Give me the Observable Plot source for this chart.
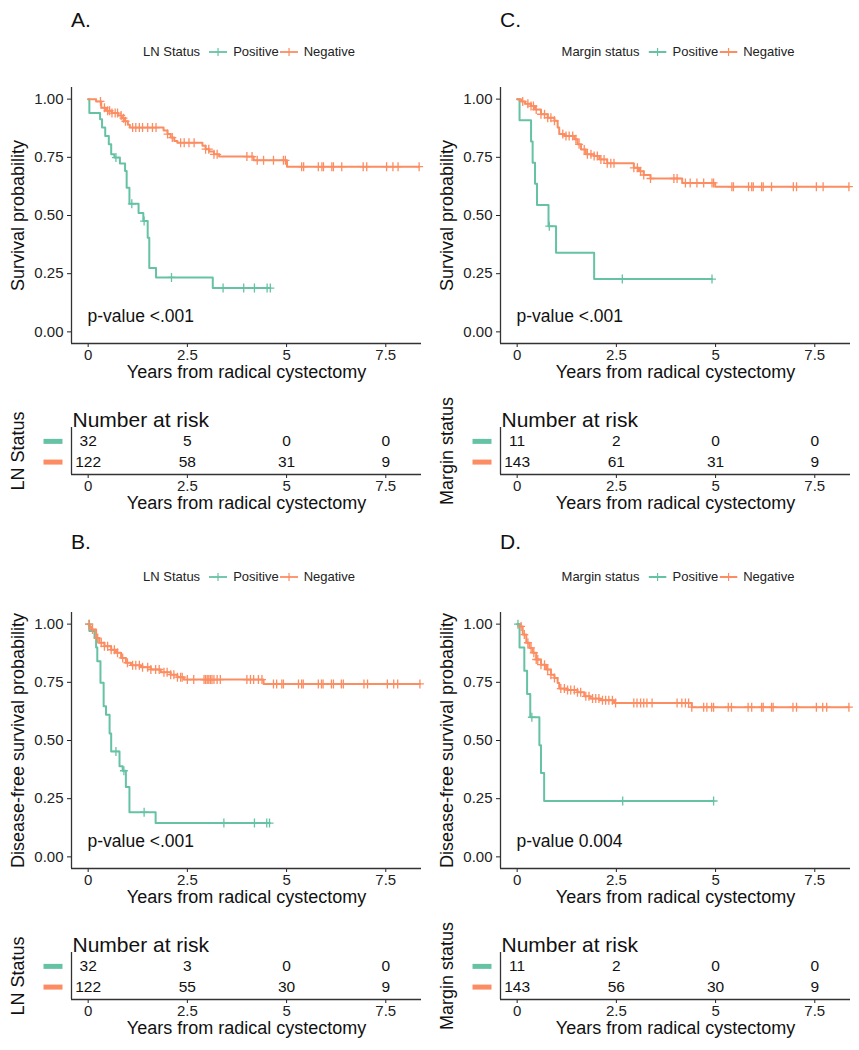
<!DOCTYPE html>
<html><head><meta charset="utf-8">
<script src="https://cdn.jsdelivr.net/npm/d3@7"></script>
<script src="https://cdn.jsdelivr.net/npm/@observablehq/plot@0.6"></script>
<style>
body{margin:0;background:#fff;font-family:"Liberation Sans",Arial,sans-serif;}
#root{position:relative;width:859px;height:1050px;overflow:hidden;background:#fff;}
.abs{position:absolute;}
.plabel{font-size:21px;line-height:24px;color:#111;}
.legend{font-size:13px;line-height:16px;display:flex;align-items:center;white-space:nowrap;color:#222;transform:translateX(-50%);}
.legend svg{display:block;}
</style></head><body><div id="root"></div>
<script>
// ---------- shared values ----------
const groups = ["Positive", "Negative"];
const colors = ["#66C2A5", "#FC8D62"];
const xTicks = [0, 2.5, 5, 7.5];
const yTicks = [0, 0.25, 0.5, 0.75, 1];
const riskTimes = [0, 2.5, 5, 7.5];

// ---------- Panel A: overall survival by LN status ----------
const aPosT = [0.03,0.30,0.35,0.43,0.52,0.58,0.66,0.80,0.93,0.97,1.04,1.27,1.39,1.50,1.54,1.71,3.14];
const aPosS = [0.94,0.914,0.878,0.842,0.806,0.763,0.749,0.723,0.691,0.619,0.55,0.511,0.476,0.404,0.274,0.234,0.188];
const aPosC = [0.70,1.10,1.41,2.10,3.40,3.92,4.19,4.51,4.59];
const aNegT = [0.2,0.33,0.45,0.6,0.75,0.85,0.93,1.0,1.05,1.9,2.0,2.08,2.17,2.25,2.88,2.96,3.05,3.17,3.3,4.17,5.01];
const aNegS = [0.99,0.963,0.95,0.94,0.93,0.918,0.905,0.89,0.878,0.865,0.85,0.835,0.82,0.813,0.8,0.785,0.775,0.763,0.753,0.737,0.71];
const aNegC = [0.31,0.41,0.49,0.54,0.60,0.68,0.74,0.83,0.89,0.94,1.12,1.20,1.29,1.37,1.50,1.62,1.71,2.0,2.12,2.33,2.42,2.54,2.67,2.96,3.04,3.17,3.25,4.0,4.13,4.26,4.42,4.67,4.92,4.97,5.38,5.43,5.80,5.89,5.93,6.14,6.18,6.39,6.93,7.02,7.52,7.68,7.81,8.34];
const aRiskPos = [32, 5, 0, 0];
const aRiskNeg = [122, 58, 31, 9];

// ---------- Panel B: disease-free survival by LN status ----------
const bPosT = [0.03,0.16,0.2,0.23,0.31,0.39,0.45,0.54,0.58,0.79,0.87,0.95,1.04,1.70];
const bPosS = [0.97,0.94,0.9,0.84,0.748,0.647,0.611,0.53,0.453,0.389,0.37,0.30,0.192,0.145];
const bPosC = [0.02,0.70,0.90,1.41,3.42,4.19,4.50,4.57];
const bNegT = [0.04,0.075,0.2,0.28,0.41,0.58,0.70,0.83,0.95,1.08,1.33,1.58,1.83,2.08,2.25,2.41,4.42];
const bNegS = [0.99,0.977,0.94,0.92,0.905,0.89,0.877,0.855,0.834,0.823,0.815,0.805,0.793,0.783,0.772,0.762,0.743];
const bNegC = [0.03,0.11,0.24,0.33,0.41,0.49,0.58,0.66,0.74,0.87,0.99,1.12,1.20,1.29,1.37,1.50,1.58,1.70,1.79,1.91,1.99,2.08,2.16,2.25,2.33,2.37,2.50,2.66,2.92,2.96,3.0,3.04,3.08,3.12,3.17,3.25,3.33,4.0,4.09,4.17,4.29,4.38,4.67,4.75,4.88,4.92,5.30,5.38,5.42,5.80,5.88,5.92,6.13,6.18,6.38,6.43,6.95,7.04,7.54,7.70,7.80,8.36];
const bRiskPos = [32, 3, 0, 0];
const bRiskNeg = [122, 55, 30, 9];

// ---------- Panel C: overall survival by margin status ----------
const cPosT = [0.06,0.35,0.39,0.45,0.50,0.79,0.98,1.94];
const cPosS = [0.909,0.818,0.727,0.636,0.545,0.454,0.34,0.227];
const cPosC = [0.81,2.65,4.91];
const cNegT = [0.1,0.2,0.35,0.45,0.6,0.77,0.94,1.02,1.06,1.19,1.44,1.52,1.61,1.73,1.94,2.07,2.27,2.94,3.07,3.19,3.36,4.16,4.99];
const cNegS = [0.99,0.98,0.97,0.955,0.935,0.92,0.907,0.878,0.85,0.842,0.828,0.806,0.784,0.763,0.756,0.741,0.724,0.705,0.69,0.674,0.659,0.64,0.624];
const cNegC = [0.14,0.27,0.35,0.41,0.48,0.60,0.69,0.77,0.85,0.94,1.15,1.23,1.31,1.40,1.48,1.56,1.69,1.77,1.86,1.94,2.02,2.11,2.19,2.27,2.36,2.44,2.94,3.03,3.11,3.19,3.36,3.95,4.03,4.24,4.36,4.53,4.70,4.91,4.95,5.41,5.45,5.83,5.91,5.95,6.16,6.20,6.41,6.96,7.04,7.54,7.71,8.36];
const cRiskPos = [11, 2, 0, 0];
const cRiskNeg = [143, 61, 31, 9];

// ---------- Panel D: disease-free survival by margin status ----------
const dPosT = [0.06,0.18,0.25,0.33,0.56,0.60,0.68];
const dPosS = [0.9,0.8,0.7,0.6,0.48,0.36,0.24];
const dPosC = [0.02,0.37,2.66,4.95];
const dNegT = [0.06,0.14,0.23,0.31,0.39,0.48,0.60,0.73,0.85,0.94,1.02,1.06,1.27,1.52,1.69,1.85,2.10,2.44,4.40];
const dNegS = [0.99,0.955,0.92,0.898,0.877,0.848,0.826,0.805,0.783,0.769,0.747,0.723,0.717,0.707,0.69,0.68,0.673,0.661,0.643];
const dNegC = [0.10,0.18,0.27,0.35,0.42,0.48,0.52,0.60,0.69,0.77,0.85,0.94,1.10,1.19,1.27,1.35,1.44,1.52,1.60,1.73,1.81,1.90,1.98,2.06,2.15,2.23,2.31,2.40,2.48,2.94,3.02,3.11,3.19,3.27,3.40,4.03,4.15,4.24,4.32,4.40,4.70,4.78,4.90,4.95,5.32,5.40,5.82,5.91,6.16,6.20,6.41,6.45,6.95,7.04,7.54,7.70,7.80,8.36];
const dRiskPos = [11, 2, 0, 0];
const dRiskNeg = [143, 56, 30, 9];

const panels = [
  {col:0,row:0,label:"A.",legendTitle:"LN Status",ytitle:"Survival probability",pval:"p-value <.001",
   curves:[[aPosT,aPosS,aPosC],[aNegT,aNegS,aNegC]],risk:[aRiskPos,aRiskNeg]},
  {col:0,row:1,label:"B.",legendTitle:"LN Status",ytitle:"Disease-free survival probability",pval:"p-value <.001",
   curves:[[bPosT,bPosS,bPosC],[bNegT,bNegS,bNegC]],risk:[bRiskPos,bRiskNeg]},
  {col:1,row:0,label:"C.",legendTitle:"Margin status",ytitle:"Survival probability",pval:"p-value <.001",
   curves:[[cPosT,cPosS,cPosC],[cNegT,cNegS,cNegC]],risk:[cRiskPos,cRiskNeg]},
  {col:1,row:1,label:"D.",legendTitle:"Margin status",ytitle:"Disease-free survival probability",pval:"p-value 0.004",
   curves:[[dPosT,dPosS,dPosC],[dNegT,dNegS,dNegC]],risk:[dRiskPos,dRiskNeg]}
];

const xTitle = "Years from radical cystectomy";
const xDomain = [-0.42, 8.4];
const yDomain = [-0.05, 1.05];
const FONT = '"Liberation Sans", Arial, sans-serif';
const INK = "#222";
const AXIS = "#333";

// censoring mark: a small "+" of fixed size
const plusSymbol = {draw(ctx){ ctx.moveTo(-4, 0); ctx.lineTo(4, 0); ctx.moveTo(0, -4.5); ctx.lineTo(0, 4.5); }};

function kmPlot(p){
  const lineData = [], censData = [];
  p.curves.forEach(([T,S,C], gi) => {
    const g = groups[gi];
    const pts = [{t:0, s:1}].concat(T.map((t,i) => ({t, s:S[i]})));
    const tmax = Math.max(...T, ...C);
    pts.push({t:tmax, s:pts[pts.length-1].s});
    pts.forEach(q => lineData.push({...q, g}));
    C.forEach(t => {
      let s = 1;
      pts.forEach(q => { if (q.t <= t) s = q.s; });
      censData.push({t, s, g});
    });
  });
  return Plot.plot({
    width: 430, height: 320,
    marginLeft: 71, marginRight: 9, marginTop: 12, marginBottom: 52,
    style: {fontFamily: FONT, fontSize: "15px", color: INK, background: "transparent", overflow: "visible"},
    x: {domain: xDomain},
    y: {domain: yDomain},
    color: {domain: groups, range: colors},
    marks: [
      Plot.axisX({ticks: xTicks, tickSize: 4, tickPadding: 2, tickFormat: d => String(d), label: null, fontSize: 15}),
      Plot.axisY({ticks: yTicks, tickSize: 4, tickPadding: 4, tickFormat: d3.format(".2f"), label: null, fontSize: 15}),
      Plot.ruleX([xDomain[0]], {stroke: AXIS, strokeWidth: 1.3}),
      Plot.ruleY([yDomain[0]], {stroke: AXIS, strokeWidth: 1.3}),
      Plot.line(lineData, {x: "t", y: "s", z: "g", stroke: "g", curve: "step-after", strokeWidth: 2}),
      Plot.dot(censData, {x: "t", y: "s", stroke: "g", fill: "none", symbol: plusSymbol, r: 4, strokeWidth: 1.3}),
      Plot.text([p.pval], {frameAnchor: "bottom-left", dx: 16, dy: -22, text: d => d, fontSize: 17.5, textAnchor: "start", fill: "#111"}),
      Plot.text([xTitle], {frameAnchor: "bottom", dy: 34, text: d => d, fontSize: 18, textAnchor: "middle", fill: "#111"}),
      Plot.text([p.ytitle], {frameAnchor: "left", dx: -53, rotate: -90, text: d => d, fontSize: 18, textAnchor: "middle", fill: "#111"})
    ]
  });
}

const barSymbol = {draw(ctx){ ctx.rect(-9.5, -2.5, 19, 5); }};

function riskPlot(p){
  const rows = [];
  p.risk.forEach((arr, gi) => arr.forEach((n, i) => rows.push({g: groups[gi], row: gi + 1, t: riskTimes[i], n})));
  const keys = groups.map((g, gi) => ({g, row: gi + 1}));
  const yDom = [2.6, 0.33];
  return Plot.plot({
    width: 430, height: 125,
    marginLeft: 71, marginRight: 9, marginTop: 32, marginBottom: 46,
    style: {fontFamily: FONT, fontSize: "15px", color: INK, background: "transparent", overflow: "visible"},
    x: {domain: xDomain},
    y: {domain: yDom, axis: null},
    color: {domain: groups, range: colors},
    marks: [
      Plot.axisX({ticks: xTicks, tickSize: 4, tickPadding: 2, tickFormat: d => String(d), label: null, fontSize: 15}),
      Plot.ruleX([xDomain[0]], {stroke: AXIS, strokeWidth: 1.3}),
      Plot.ruleY([yDom[0]], {stroke: AXIS, strokeWidth: 1.3}),
      Plot.text(rows, {x: "t", y: "row", text: "n", fontSize: 15.5, fill: "#111"}),
      Plot.dot(keys, {y: "row", frameAnchor: "left", dx: -18.5, symbol: barSymbol, fill: "g", r: 5}),
      Plot.text(["Number at risk"], {frameAnchor: "top-left", dx: 1, dy: -15, text: d => d, fontSize: 21, textAnchor: "start", fill: "#111"}),
      Plot.text([xTitle], {frameAnchor: "bottom", dy: 34, text: d => d, fontSize: 18, textAnchor: "middle", fill: "#111"}),
      Plot.text([p.legendTitle], {frameAnchor: "left", dx: -53, rotate: -90, text: d => d, fontSize: 18, textAnchor: "middle", fill: "#111"})
    ]
  });
}

function keySvg(color){
  const ns = "http://www.w3.org/2000/svg";
  const s = document.createElementNS(ns, "svg");
  s.setAttribute("width", "18"); s.setAttribute("height", "12");
  s.innerHTML = `<line x1="0" y1="6" x2="18" y2="6" stroke="${color}" stroke-width="1.8"/><line x1="9" y1="2" x2="9" y2="10" stroke="${color}" stroke-width="1.2"/>`;
  return s;
}

const root = document.getElementById("root");
panels.forEach(p => {
  const ox = p.col * 429, oy = p.row * 525;
  const lab = document.createElement("div");
  lab.className = "abs plabel";
  lab.textContent = p.label;
  lab.style.left = (ox + 71) + "px";
  lab.style.top = (oy - p.row * 3 + 8) + "px";
  root.appendChild(lab);

  const leg = document.createElement("div");
  leg.className = "abs legend";
  leg.style.left = (ox + 249) + "px";
  leg.style.top = (oy + 44) + "px";
  const t = document.createElement("span"); t.textContent = p.legendTitle; t.style.marginRight = "9px";
  leg.appendChild(t);
  groups.forEach((g, i) => {
    const k = keySvg(colors[i]); k.style.marginRight = "6px";
    leg.appendChild(k);
    const s = document.createElement("span"); s.textContent = g; s.style.marginRight = i === 0 ? "1px" : "0";
    leg.appendChild(s);
  });
  root.appendChild(leg);

  const km = kmPlot(p);
  km.classList.add("abs");
  km.style.left = ox + "px"; km.style.top = (oy + 75) + "px";
  root.appendChild(km);

  const rk = riskPlot(p);
  rk.classList.add("abs");
  rk.style.left = ox + "px"; rk.style.top = (oy + 395) + "px";
  root.appendChild(rk);
});
</script></body></html>
